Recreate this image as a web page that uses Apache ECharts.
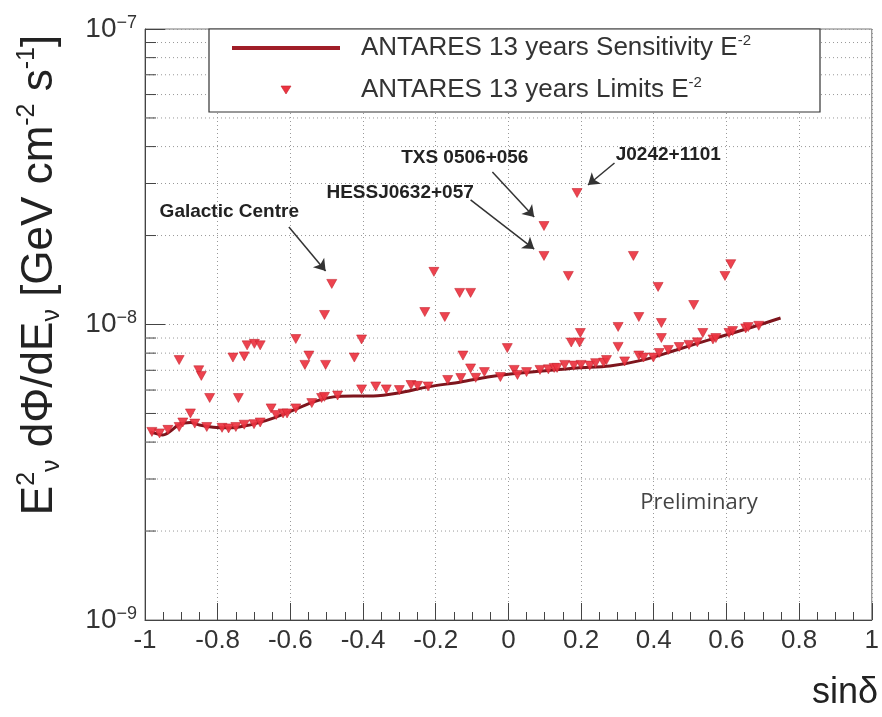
<!DOCTYPE html>
<html><head><meta charset="utf-8">
<script src="https://cdn.jsdelivr.net/npm/echarts@6/dist/echarts.min.js"></script>
<style>html,body{margin:0;padding:0;background:#fff}#c{width:882px;height:717px}</style>
</head><body><div id="c"></div>
<script>
// Sensitivity curve (sin(dec), E^2 dPhi/dE)
const sensSinDelta = [-0.986,-0.951,-0.904,-0.875,-0.850,-0.803,-0.765,-0.720,-0.699,-0.645,-0.590,-0.536,-0.481,-0.426,-0.372,-0.303,-0.221,-0.131,-0.057,0,0.093,0.189,0.279,0.372,0.462,0.552,0.645,0.749];
const sensFlux = [4.33e-9,4.23e-9,4.60e-9,4.66e-9,4.57e-9,4.48e-9,4.47e-9,4.55e-9,4.61e-9,4.83e-9,5.14e-9,5.47e-9,5.69e-9,5.73e-9,5.73e-9,5.86e-9,6.15e-9,6.39e-9,6.64e-9,6.79e-9,6.96e-9,7.13e-9,7.24e-9,7.59e-9,8.20e-9,8.87e-9,9.58e-9,1.052e-8];

// Upper limits of the source list
const limSinDelta = [
 -0.906,-0.852,-0.845,-0.822,-0.758,-0.743,-0.727,-0.719,-0.699,-0.683,-0.585,-0.560,-0.549,-0.506,-0.503,-0.486,-0.424,-0.404,
 -0.230,-0.205,-0.175,-0.134,-0.125,-0.104,-0.104,-0.003,0.098,0.098,0.165,0.173,0.189,0.196,0.198,0.302,0.302,0.344,0.359,
 0.412,0.421,0.421,0.510,0.535,0.596,0.612,
 -0.981,-0.960,-0.937,-0.906,-0.896,-0.875,-0.863,-0.830,-0.788,-0.770,-0.750,-0.727,-0.700,-0.683,-0.653,-0.639,-0.620,-0.609,
 -0.585,-0.541,-0.514,-0.506,-0.470,-0.404,-0.365,-0.336,-0.300,-0.268,-0.250,-0.221,-0.167,-0.131,-0.090,-0.066,-0.022,
 0.016,0.025,0.050,0.087,0.110,0.126,0.134,0.155,0.180,0.200,0.224,0.240,0.262,0.270,0.320,0.359,0.372,0.399,0.415,0.440,
 0.470,0.497,0.520,0.563,0.571,0.607,0.617,0.653,0.660,0.689];
const limFlux = [
 7.58e-9,7.0e-9,6.7e-9,5.64e-9,7.73e-9,5.64e-9,7.8e-9,8.5e-9,8.6e-9,8.5e-9,8.93e-9,7.3e-9,7.85e-9,1.077e-8,7.3e-9,1.372e-8,7.73e-9,8.9e-9,
 1.102e-8,1.507e-8,1.06e-8,1.279e-8,7.85e-9,1.279e-8,7.1e-9,8.32e-9,2.154e-8,1.706e-8,1.46e-8,8.69e-9,2.786e-8,8.69e-9,9.36e-9,9.81e-9,8.4e-9,1.706e-8,1.06e-8,
 1.34e-8,1.012e-8,9.0e-9,1.164e-8,9.36e-9,1.46e-8,1.6e-8,
 4.33e-9,4.28e-9,4.40e-9,4.5e-9,4.66e-9,5.0e-9,4.62e-9,4.5e-9,4.47e-9,4.45e-9,4.5e-9,4.58e-9,4.6e-9,4.66e-9,5.2e-9,4.94e-9,5.0e-9,5.0e-9,
 5.2e-9,5.42e-9,5.64e-9,5.69e-9,5.75e-9,6.03e-9,6.17e-9,6.03e-9,6.0e-9,6.24e-9,6.2e-9,6.17e-9,6.49e-9,6.59e-9,6.6e-9,6.9e-9,6.64e-9,
 7.02e-9,6.75e-9,6.9e-9,7.02e-9,7.05e-9,7.13e-9,7.13e-9,7.3e-9,7.26e-9,7.3e-9,7.26e-9,7.4e-9,7.43e-9,7.58e-9,7.5e-9,7.85e-9,7.73e-9,7.73e-9,8.01e-9,8.2e-9,
 8.39e-9,8.53e-9,8.7e-9,8.9e-9,9.0e-9,9.36e-9,9.5e-9,9.7e-9,9.8e-9,9.9e-9];

// Minor log grid values
const yMinorGrid = [2e-9,3e-9,4e-9,5e-9,6e-9,7e-9,8e-9,9e-9,2e-8,3e-8,4e-8,5e-8,6e-8,7e-8,8e-8,9e-8];

// Annotations: label, label anchor, arrow start, arrow tip (data coordinates)
const annotLabels = ['Galactic Centre','TXS 0506+056','HESSJ0632+057','J0242+1101'];
const annotAt   = [[-0.768,2.40e-8],[-0.120,3.66e-8],[-0.298,2.786e-8],[0.440,3.75e-8]];
const annotFrom = [[-0.604,2.138e-8],[-0.044,3.28e-8],[-0.104,2.64e-8],[0.292,3.52e-8]];
const annotTo   = [[-0.503,1.518e-8],[0.071,2.31e-8],[0.071,1.80e-8],[0.219,2.965e-8]];

const legendLabels = ['ANTARES 13 years Sensitivity E','ANTARES 13 years Limits E'];

const FONT = "'Liberation Sans', Arial, Helvetica, sans-serif";
const chart = echarts.init(document.getElementById('c'), null, {renderer:'canvas'});

const option = {
  animation:false,
  backgroundColor:'#fff',
  grid:{left:145,right:5,top:29,bottom:97,show:true,borderColor:'#777',borderWidth:1,backgroundColor:'transparent'},
  xAxis:{
    type:'value',min:-1,max:1,interval:0.2,
    axisLine:{show:true,onZero:false,lineStyle:{color:'#444',width:1}},
    axisTick:{show:true,inside:true,length:17,lineStyle:{color:'#444'}},
    minorTick:{show:true,splitNumber:4,length:8,lineStyle:{color:'#444'}},
    splitLine:{show:true,lineStyle:{color:'#999',type:[1,3],width:1}},
    axisLabel:{show:true,margin:8,color:'#333',fontFamily:FONT,fontSize:26,showMinLabel:true,showMaxLabel:true,
      formatter:v=>{const r=Math.round(v*10)/10; return r===0?'0':(r<0?'-':'')+Math.abs(r);}}
  },
  yAxis:{
    type:'log',logBase:10,min:1e-9,max:1e-7,
    axisLine:{show:true,onZero:false,lineStyle:{color:'#444',width:1}},
    axisTick:{show:true,inside:true,length:20,lineStyle:{color:'#444'}},
    splitLine:{show:true,lineStyle:{color:'#999',type:[1,3],width:1}},
    axisLabel:{show:true,margin:8,showMinLabel:true,showMaxLabel:true,
      formatter:v=>{const e=Math.round(Math.log10(v)); return '{b|10}{s|'+(e<0?'\u2212':'')+Math.abs(e)+'}';},
      rich:{
        b:{fontSize:28,fontFamily:FONT,color:'#333',lineHeight:30},
        s:{fontSize:18,fontFamily:FONT,color:'#333',lineHeight:14,verticalAlign:'top'}
      }}
  },
  series:[
    {
      type:'custom',silent:true,z:1,clip:false,
      data:yMinorGrid.map(v=>[-1,v]),
      encode:{x:0,y:1},
      renderItem:(params,api)=>{
        const cs=params.coordSys;
        const y=api.coord([api.value(0),api.value(1)])[1];
        return {type:'group',children:[
          {type:'line',shape:{x1:cs.x,y1:y,x2:cs.x+cs.width,y2:y},style:{stroke:'#999',lineWidth:1,lineDash:[1,3]}},
          {type:'line',shape:{x1:cs.x,y1:y,x2:cs.x+11,y2:y},style:{stroke:'#444',lineWidth:1}}
        ]};
      }
    },
    {
      name:'Sensitivity',type:'line',z:3,
      data:sensSinDelta.map((x,i)=>[x,sensFlux[i]]),
      showSymbol:false,smooth:0.3,
      lineStyle:{color:'#7e151d',width:3}
    },
    {
      name:'Limits',type:'scatter',z:4,
      data:limSinDelta.map((x,i)=>[x,limFlux[i]]),
      symbol:'triangle',symbolRotate:180,symbolSize:[10,9],
      itemStyle:{color:'#ec3340',borderColor:'#c3212c',borderWidth:0.6,opacity:0.92},
      markLine:{
        silent:true,symbol:['none','arrow'],symbolSize:11,
        label:{show:false},
        lineStyle:{color:'#333',width:1.5,type:'solid'},
        data:annotFrom.map((f,i)=>[{coord:f},{coord:annotTo[i]}])
      }
    }
  ]
};
chart.setOption(option);

const conv = p => chart.convertToPixel({xAxisIndex:0,yAxisIndex:0}, p);
const graphics = [];
// legend box
graphics.push({type:'rect',z:50,shape:{x:209,y:29,width:611,height:83},style:{fill:'#fff',stroke:'#333',lineWidth:1.2}});
graphics.push({type:'line',z:51,shape:{x1:232,y1:48,x2:340,y2:48},style:{stroke:'#a01e28',lineWidth:4}});
graphics.push({type:'polygon',z:51,shape:{points:[[281,86],[291,86],[286,94]]},style:{fill:'#ec3340',stroke:'#c3212c',lineWidth:0.6}});
const legRich = {
  a:{fontSize:26,fontFamily:FONT,fill:'#333',lineHeight:30},
  b:{fontSize:15,fontFamily:FONT,fill:'#333',lineHeight:14,verticalAlign:'top'}
};
graphics.push({type:'text',z:51,x:361,y:48,style:{text:'{a|'+legendLabels[0]+'}{b|-2}',rich:legRich,verticalAlign:'middle',align:'left'}});
graphics.push({type:'text',z:51,x:361,y:90,style:{text:'{a|'+legendLabels[1]+'}{b|-2}',rich:legRich,verticalAlign:'middle',align:'left'}});
// annotations
annotLabels.forEach((t,i)=>{
  const p=conv(annotAt[i]);
  graphics.push({type:'text',z:40,x:p[0],y:p[1],style:{text:t,font:'bold 19px '+FONT,fill:'#222',align:'center',verticalAlign:'middle'}});
});
// y title
graphics.push({type:'text',z:40,x:40,y:275,rotation:Math.PI/2,style:{
  text:'{n|E}{p|2}{q|\u03bd}{n| d\u03a6/dE}{q|\u03bd}{n| [GeV cm}{p|-2}{n| s}{p|-1}{n|]}',
  align:'center',verticalAlign:'middle',
  rich:{
    n:{fontSize:44,fontFamily:FONT,fill:'#222',lineHeight:50},
    p:{fontSize:25,fontFamily:FONT,fill:'#222',lineHeight:22,verticalAlign:'top'},
    q:{fontSize:25,fontFamily:FONT,fill:'#222',lineHeight:22,verticalAlign:'bottom'}
  }}});
// x title
graphics.push({type:'text',z:40,x:878,y:693,style:{text:'sin\u03b4',font:'36px '+FONT,fill:'#222',align:'right',verticalAlign:'middle'}});
// Preliminary
graphics.push({type:'text',z:40,x:699,y:503,style:{text:'Preliminary',font:"22px 'Open Sans', sans-serif",fill:'#444',align:'center',verticalAlign:'middle'}});

chart.setOption({graphic:graphics});
</script>
</body></html>
